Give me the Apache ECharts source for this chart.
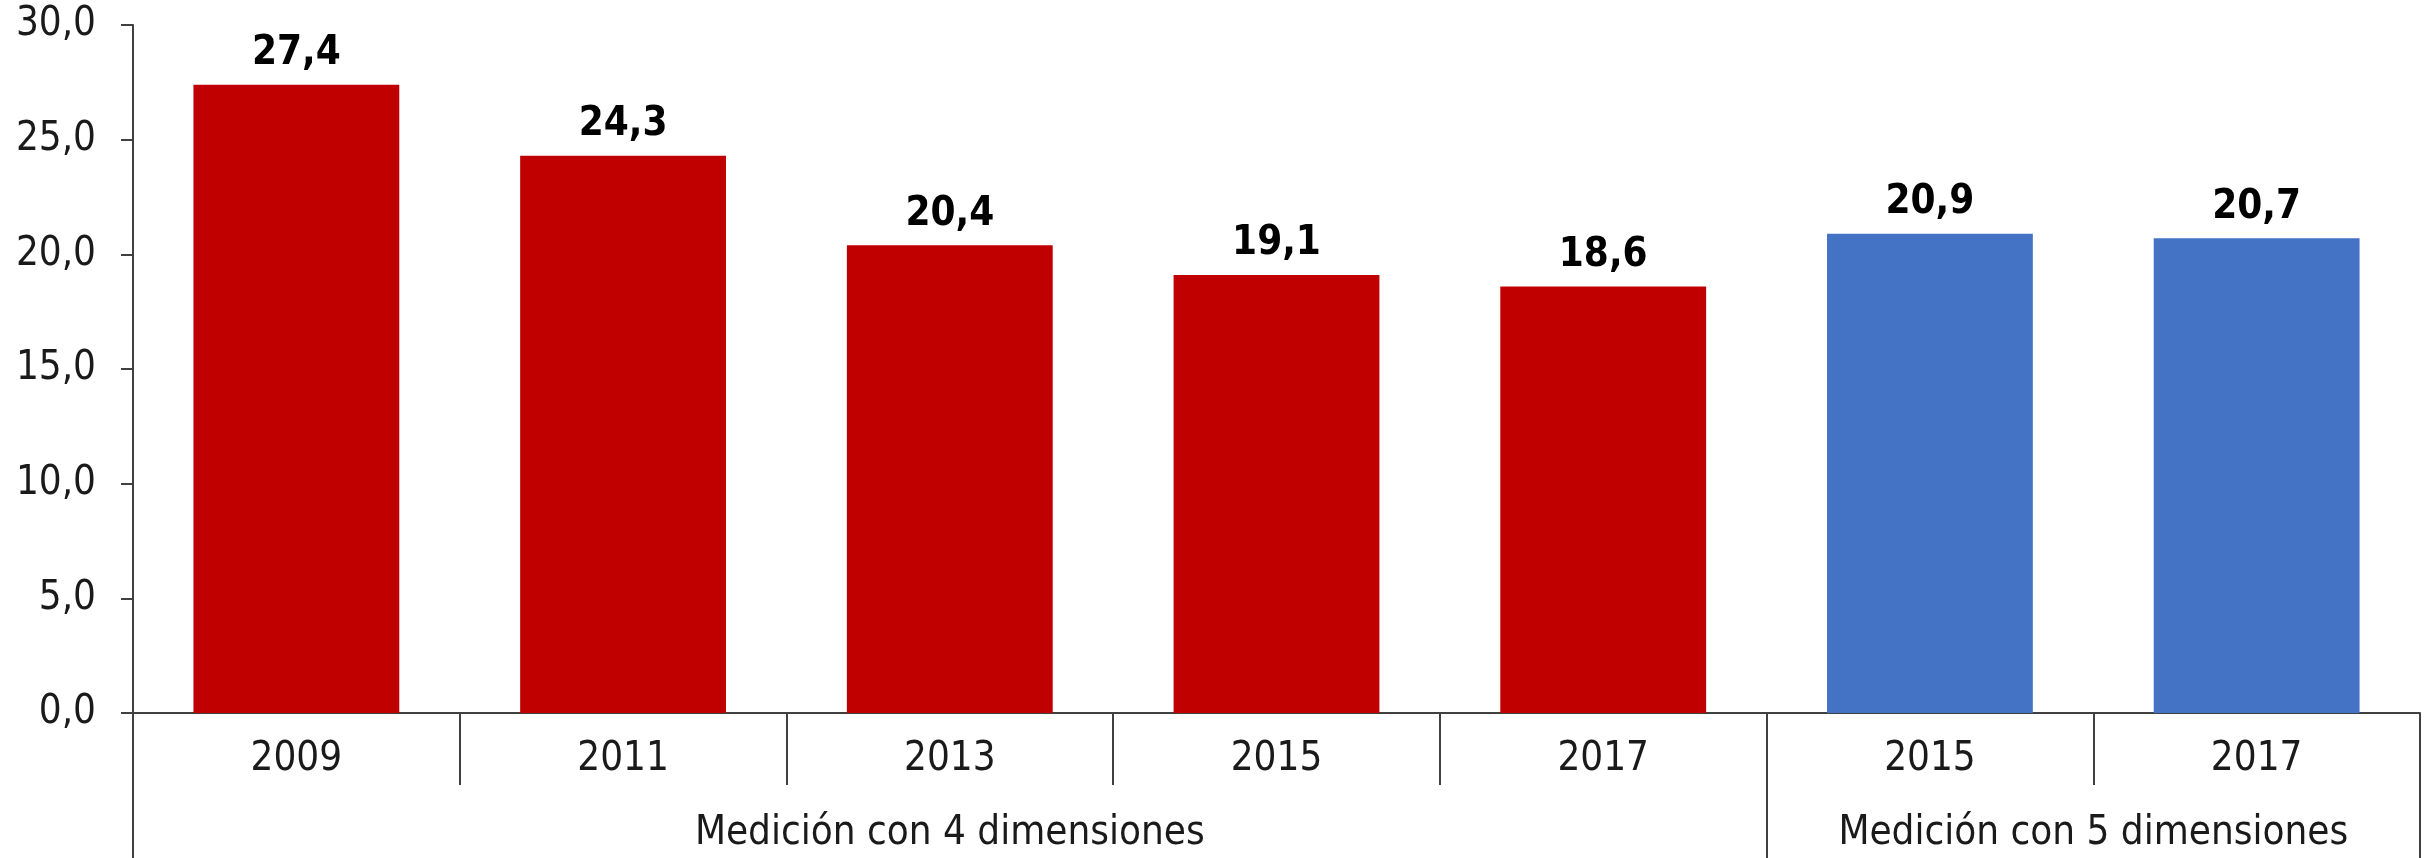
<!DOCTYPE html>
<html>
<head>
<meta charset="utf-8">
<script src="https://cdn.jsdelivr.net/npm/echarts@6/dist/echarts.min.js"></script>
<style>
html,body{margin:0;padding:0;background:#fff;}
#chart{width:2435px;height:858px;}
</style>
</head>
<body>
<div id="chart"></div>
<script>
const categories = ['2009', '2011', '2013', '2015', '2017', '2015', '2017'];
const values = [27.4, 24.3, 20.4, 19.1, 18.6, 20.9, 20.7];
const groupNames = ['Medición con 4 dimensiones', 'Medición con 5 dimensiones'];
const groupSizes = [5, 2];
const groupColors = ['#C00000', '#4472C4'];
const yTicks = [0, 5, 10, 15, 20, 25, 30];

const fmt = v => Number(v).toFixed(1).replace('.', ',');

// group index per category
const groupOf = [];
groupSizes.forEach((n, g) => { for (let i = 0; i < n; i++) groupOf.push(g); });
const barData = values.map((v, i) => ({ value: v, itemStyle: { color: groupColors[groupOf[i]] } }));

// group boundaries and centres in category units
const bounds = [0];
groupSizes.forEach(n => bounds.push(bounds[bounds.length - 1] + n));
const centres = groupSizes.map((n, g) => bounds[g] + n / 2);

const FONT = '"DejaVu Sans Condensed", "DejaVu Sans", Verdana, sans-serif';
const TXT = '#1a1a1a';
const AX = '#404040';

const chart = echarts.init(document.getElementById('chart'), null, { renderer: 'canvas' });
chart.setOption({
  animation: false,
  backgroundColor: '#ffffff',
  grid: { left: 133, right: 15, top: 25, bottom: 145, containLabel: false },
  xAxis: [
    {
      type: 'category',
      data: categories,
      position: 'bottom',
      axisLine: { show: true, lineStyle: { color: AX, width: 2 } },
      axisTick: { show: true, interval: 0, length: 72, lineStyle: { color: AX, width: 2 } },
      axisLabel: { interval: 0, margin: 27, fontFamily: FONT, fontSize: 40, color: TXT }
    },
    {
      type: 'value',
      min: 0,
      max: bounds[bounds.length - 1],
      position: 'bottom',
      splitLine: { show: false },
      axisLine: { show: false },
      axisTick: { show: true, customValues: bounds, length: 145, lineStyle: { color: AX, width: 2 } },
      axisLabel: {
        customValues: centres,
        margin: 101,
        fontFamily: FONT, fontSize: 40, color: TXT,
        formatter: v => { const i = centres.indexOf(v); return i >= 0 ? groupNames[i] : ''; }
      }
    }
  ],
  yAxis: {
    type: 'value',
    min: yTicks[0],
    max: yTicks[yTicks.length - 1],
    interval: yTicks[1] - yTicks[0],
    splitLine: { show: false },
    axisLine: { show: true, lineStyle: { color: AX, width: 2 } },
    axisTick: { show: true, length: 12, lineStyle: { color: AX, width: 2 } },
    axisLabel: { margin: 37, fontFamily: FONT, fontSize: 40, color: TXT, formatter: fmt }
  },
  series: [{
    type: 'bar',
    xAxisIndex: 0,
    yAxisIndex: 0,
    data: barData,
    barWidth: '63%',
    label: {
      show: true,
      position: 'top',
      distance: 11,
      fontFamily: FONT,
      fontWeight: 'bold',
      fontSize: 40,
      color: '#000',
      formatter: p => fmt(p.value)
    }
  }]
});
</script>
</body>
</html>
